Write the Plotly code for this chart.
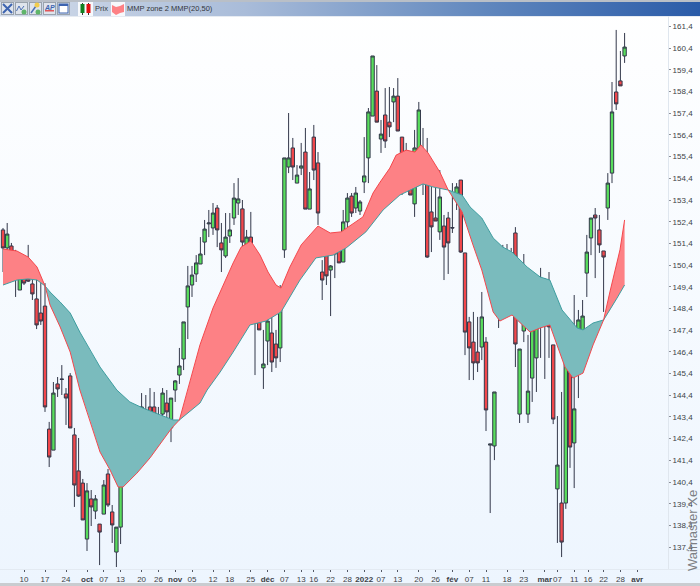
import urllib.parse
import plotly.graph_objects as go

opens = [152.02,151.19,151.28,150.17,149.25,150.31,149.80,149.53,148.84,148.19,148.51,142.84,141.87,144.92,145.15,144.46,145.29,142.57,140.91,140.35,
137.77,139.62,139.06,138.46,138.92,140.77,139.02,137.17,138.32,142.24,143.17,143.40,143.30,143.21,143.44,143.86,143.86,143.12,143.53,144.04,
142.89,144.64,145.33,146.07,148.47,149.48,149.99,150.45,151.46,152.30,152.11,153.03,151.42,150.82,151.74,152.57,153.26,152.99,151.10,151.69,
147.73,149.39,145.66,146.90,147.27,146.76,146.58,151.10,154.92,155.80,154.18,154.87,155.61,152.98,156.30,155.11,150.08,151.74,150.17,150.91,
151.56,150.54,152.39,153.58,153.03,152.89,154.23,155.34,157.27,158.42,156.21,157.32,156.99,157.92,158.19,156.30,155.11,155.20,153.22,155.43,
155.38,154.69,152.85,152.57,151.93,152.20,152.57,152.13,153.54,154.32,150.96,147.78,146.85,146.39,146.62,146.85,142.10,142.06,148.88,149.39,
150.22,150.22,151.88,143.53,147.36,143.53,145.19,146.12,147.89,147.59,148.24,146.72,140.08,139.43,139.43,146.76,142.20,145.52,147.08,150.03,
151.65,152.71,152.02,151.05,153.03,154.64,158.38,158.89,160.04]
highs = [152.11,152.34,151.42,151.10,150.96,150.50,151.33,149.85,149.85,149.57,149.57,143.17,145.01,145.24,145.79,144.73,145.42,142.89,142.43,140.54,
140.35,140.03,139.80,138.46,140.49,141.00,139.34,138.32,140.45,142.98,143.72,143.58,143.58,144.50,144.41,144.73,144.55,143.86,144.73,144.64,
144.27,145.10,146.58,147.78,150.36,150.36,150.86,151.69,152.48,152.94,153.26,153.17,152.34,152.80,152.80,154.18,154.41,153.40,152.02,152.85,
150.17,149.57,147.41,148.19,148.01,147.41,149.48,155.34,157.41,156.26,155.01,156.03,156.72,154.69,156.86,155.61,150.63,151.74,150.40,151.65,
151.56,152.94,153.72,153.72,154.00,153.40,156.30,157.64,160.04,159.62,157.09,158.56,158.61,158.56,159.02,156.30,156.03,155.61,156.63,157.92,
156.72,156.26,154.78,154.41,154.78,152.71,152.85,154.18,154.18,154.32,150.96,148.01,148.24,148.01,149.16,147.08,142.15,144.55,149.80,151.33,
151.37,151.19,152.15,146.53,150.91,147.18,148.65,148.93,150.27,149.80,150.08,146.72,143.44,144.55,145.98,146.76,149.02,148.33,148.79,151.79,
152.57,153.03,152.71,151.05,154.64,158.84,161.24,160.27,161.10]
lows = [150.08,150.96,150.27,148.93,149.25,149.48,149.62,148.79,147.45,147.64,143.63,141.09,141.87,144.32,144.41,143.03,142.89,139.25,139.71,138.65,
137.22,138.37,138.69,136.57,138.92,139.25,137.59,136.48,137.54,140.72,142.43,142.43,142.20,142.29,143.03,142.52,142.84,143.12,143.35,142.80,
142.24,144.09,144.92,145.56,146.99,148.93,149.62,150.45,150.86,151.69,151.79,151.23,150.08,150.73,151.42,152.25,152.71,150.82,150.31,150.54,
145.33,147.41,144.69,145.79,145.47,145.66,145.93,150.73,154.64,154.32,154.18,154.55,152.98,152.98,154.32,152.25,148.79,149.48,148.05,149.80,
150.50,150.54,151.93,152.62,152.80,152.71,153.72,154.18,157.27,156.99,155.57,155.80,156.30,156.99,156.58,153.63,154.32,153.63,152.62,154.55,
153.63,150.73,151.00,152.43,151.56,149.71,149.99,151.88,152.94,150.96,146.25,145.10,145.10,145.47,146.02,142.75,138.97,141.41,147.50,148.70,
148.70,148.70,145.70,143.12,146.85,143.12,144.09,144.55,146.12,145.15,146.12,143.07,137.59,136.94,139.16,141.05,140.12,144.27,145.56,148.93,
150.86,149.80,150.96,148.24,152.48,154.18,157.55,158.66,159.72]
closes = [151.19,151.83,150.50,150.13,150.22,149.57,149.66,149.07,147.64,147.82,143.86,141.55,144.50,144.69,145.13,144.27,142.89,140.26,139.75,138.65,
139.99,139.25,139.62,138.09,140.26,139.34,138.42,138.32,140.45,142.47,143.30,143.03,143.12,143.86,143.58,143.12,142.98,143.40,144.50,143.63,
144.27,145.06,145.75,147.78,149.44,149.94,150.50,150.91,152.06,152.34,152.80,152.02,151.10,151.69,152.02,153.49,153.45,151.46,151.69,151.42,
148.51,147.41,145.84,147.82,145.93,146.12,148.74,155.34,155.34,154.92,154.55,154.97,152.98,153.91,154.78,152.80,149.71,149.90,150.36,151.51,
150.50,152.39,153.49,152.80,153.72,153.31,154.51,157.46,160.04,156.99,156.44,156.12,156.77,158.19,156.58,154.78,155.34,153.63,155.80,157.55,
155.24,150.77,152.16,152.43,153.54,151.23,151.42,152.11,154.00,151.00,147.31,146.58,145.89,145.89,148.01,143.72,142.15,144.55,148.42,150.31,
150.31,150.77,146.76,146.53,148.28,144.59,148.01,148.70,147.91,148.84,147.55,143.30,141.18,137.63,145.98,142.01,143.77,147.87,148.05,151.00,
152.57,152.57,151.33,150.77,154.18,157.46,157.83,158.66,160.45]

ma20_idx = [0,3.3,6,8.1,10,11.2,13.6,16,18.3,20.7,23.1,25.5,27.4,28.6,31.9,35,38.1,40.2,42,44,46.9,50,54.8,56.7,59,61.2,63.1,65,66.2,68.3,71,73.1,75,77.9,80.5,85.7,88.1,89.8,92.1,93.6,96,98.1,99.5,101.2,104,106,109.3,111.9,114,116.7,118.3,121.2,123.1,125.5,127.9,130.2,131.9,133.8,135.7,138.1,140.5,143,144.5,146.9,148]
ma20 = [151.14,151.05,150.77,150.31,149.44,148.56,147.55,146.39,144.64,143.26,141.78,140.95,140.17,140.17,140.81,141.51,142.34,142.89,143.26,144.64,146.72,148.42,150.50,151.23,151.51,150.86,150.08,149.48,149.34,150.31,151.33,151.79,152.20,151.88,151.93,152.62,153.72,154.23,154.87,155.47,155.70,155.61,155.94,155.57,154.69,153.86,152.85,151.33,150.17,148.24,147.82,148.10,147.73,147.31,147.50,147.64,146.72,145.70,145.19,145.42,146.72,147.87,149.16,151.10,152.48]
ma50_idx = [0,3.3,6,8.1,10,11.2,13.6,16,18.3,20.7,23.1,27.1,30.2,33.3,37.4,40.5,42,46.9,48.6,51.7,54.8,58.8,62.6,66.2,70.7,74.5,78.6,81.7,86.4,90.5,94.5,96.9,100,102.4,106,109.3,111.2,114,116.7,119,121.2,124.8,127.9,130.2,133.1,134.5,136.7,138.1,140.5,143,144.5,146.2,148]
ma50 = [149.48,149.71,149.76,149.71,149.44,149.16,148.70,148.19,147.31,146.49,145.70,144.64,144.09,143.81,143.49,143.26,143.26,144.04,144.64,145.47,146.39,147.64,147.82,148.24,149.71,150.73,150.86,151.19,151.93,152.94,153.63,153.86,154.14,154.00,153.86,153.63,153.08,152.57,151.65,151.23,151.00,150.31,149.85,149.71,148.33,148.01,147.50,147.41,147.73,147.87,148.33,148.88,149.48]
zone_breaks = [0,10,42,106,143,148]
zone_colors = ["#fd8185","#7abbbd","#fd8185","#7abbbd","#fd8185"]

x_tick_idx = [5,10,15,20,24,28,33,37,41,45,50,54,59,63,67,71,74,78,82,86,90,94,99,103,107,111,115,120,124,129,132,136,139.3,143,147,151]
x_tick_txt = ["10","17","24","<b>oct</b>","07","13","20","26","<b>nov</b>","05","12","18","25","<b>déc</b>","07","13","16","22","28","<b>2022</b>","07","13","20","26","<b>fév</b>","07","11","18","23","<b>mar</b>","07","11","16","22","28","<b>avr</b>"]
y_ticks = [137.4 + k for k in range(25)]
y_tick_txt = [f"{v:.1f}".replace(".", ",") for v in y_ticks]

W, H = 700, 586
ML, MR, MT, MB = 0, 32, 16, 17
PW, PH = W - ML - MR, H - MT - MB

svg = f'''<svg xmlns="http://www.w3.org/2000/svg" width="{W}" height="{H}" viewBox="0 0 {W} {H}">
<defs>
<linearGradient id="b" x1="0" y1="0" x2="0" y2="1"><stop offset="0" stop-color="#ffffff"/><stop offset="1" stop-color="#edf5fe"/></linearGradient>
<linearGradient id="h" x1="0" y1="0" x2="1" y2="0"><stop offset="0" stop-color="#d3dcea"/><stop offset="0.35" stop-color="#a9bcd9"/><stop offset="0.7" stop-color="#5f86bd"/><stop offset="1" stop-color="#2a5ba8"/></linearGradient>
</defs>
<rect width="{W}" height="{H}" fill="url(#b)"/>
<rect width="{W}" height="2" fill="#b9bfc7"/>
<rect y="2" width="{W}" height="14" fill="url(#h)"/>
<rect y="16" width="{W}" height="1" fill="#e6ebf2"/>
<rect x="668" y="16" width="1" height="553" fill="#dfe6ee"/>
<rect y="569" width="{W}" height="1" fill="#e3eaf2"/>
<rect y="583" width="{W}" height="3" fill="#c9ccd0"/>
<g fill="#dfe4ec" stroke="#9aa3ad" stroke-width="1">
<rect x="1.5" y="2.5" width="12" height="12"/><rect x="15.5" y="2.5" width="12" height="12"/><rect x="29.5" y="2.5" width="12" height="12"/><rect x="43.5" y="2.5" width="12" height="12"/><rect x="57.5" y="2.5" width="12" height="12"/>
</g>
<path d="M3 13 L12 4 M3 4 L12 13" stroke="#3d64b0" stroke-width="2"/>
<path d="M16.5 11 L19 6 L21 10 L24 6" fill="none" stroke="#4a6fb5" stroke-width="1"/><circle cx="24" cy="12" r="2.5" fill="#5fb56a"/>
<path d="M31 13 L36 6" stroke="#4a6fb5" stroke-width="1.5"/><circle cx="37" cy="5" r="2.5" fill="#f1cc4c"/><circle cx="38" cy="12" r="2.5" fill="#5fb56a"/>
<rect x="45" y="10" width="9" height="1.5" fill="#e0565a"/>
<rect x="59" y="4" width="9" height="9" fill="#fff" stroke="#3d64b0"/><rect x="59" y="4" width="9" height="2" fill="#3d64b0"/>
<rect x="78" y="2" width="15" height="14" fill="#f7f9fc"/>
<path d="M82.5 3 V15 M88.5 3 V15" stroke="#333"/>
<rect x="80.5" y="4" width="4" height="9" fill="#0f7f1f"/><rect x="86.5" y="4" width="4" height="9" fill="#e20f10"/>
<rect x="111" y="2" width="14" height="14" fill="#f7f9fc"/>
<path d="M112 5 L116 7 L120 6 L124 4 L124 12 L120 13 L116 15 L112 12 Z" fill="#fd8185"/>
</svg>'''
bg = "data:image/svg+xml," + urllib.parse.quote(svg)

fig = go.Figure()
for a, b, col in zip(zone_breaks[:-1], zone_breaks[1:], zone_colors):
    up = [(i, v) for i, v in zip(ma20_idx, ma20) if a <= i <= b]
    lo = [(i, v) for i, v in zip(ma50_idx, ma50) if a <= i <= b][::-1]
    pts = up + lo
    fig.add_trace(go.Scatter(x=[p[0] for p in pts], y=[p[1] for p in pts], mode="none", fill="toself",
                             fillcolor=col, hoverinfo="skip", showlegend=False))
fig.add_trace(go.Scatter(x=ma50_idx, y=ma50, mode="lines", line=dict(color="#3f9ea0", width=1), hoverinfo="skip", showlegend=False))
fig.add_trace(go.Scatter(x=ma20_idx, y=ma20, mode="lines", line=dict(color="#f4474c", width=1), hoverinfo="skip", showlegend=False))
fig.add_trace(go.Candlestick(x=list(range(len(opens))), open=opens, high=highs, low=lows, close=closes,
    increasing=dict(line=dict(color="#33384a", width=1), fillcolor="#58dd5c"),
    decreasing=dict(line=dict(color="#33384a", width=1), fillcolor="#f2474b"),
    whiskerwidth=0, showlegend=False))

x_range = [(ML - 3) / 4.2, (ML + PW - 3) / 4.2]
y_range = [162.62 - 0.0461 * (MT + PH), 162.62 - 0.0461 * MT]
tick_font = dict(family="Liberation Sans, Arial, sans-serif", size=8, color="#3c3f46")

annots = [
    dict(text="Prix", x=93, y=9),
    dict(text="MMP zone 2 MMP(20,50)", x=125, y=9),
]
ann = []
for a in annots:
    ann.append(dict(text=a["text"], xref="paper", yref="paper", x=(a["x"] - ML) / PW, y=(H - MB - a["y"]) / PH,
                    xanchor="left", yanchor="middle", showarrow=False,
                    font=dict(family="Liberation Sans, Arial, sans-serif", size=7.5, color="#33363c")))
ann.append(dict(text="<i><b>AP</b></i>", xref="paper", yref="paper", x=49.5 / PW, y=(H - MB - 7) / PH, xanchor="center", yanchor="middle",
                showarrow=False, font=dict(family="Liberation Sans, Arial, sans-serif", size=7, color="#3d64b0")))
ann.append(dict(text="Waimaster Xe", xref="paper", yref="paper", x=(692 - ML) / PW, y=(H - MB - 531) / PH, xanchor="center", yanchor="middle",
                textangle=-90, showarrow=False, font=dict(family="Liberation Sans, Arial, sans-serif", size=13, color="#7d7f84")))

fig.update_layout(
    width=W, height=H, autosize=False,
    margin=dict(l=ML, r=MR, t=MT, b=MB, pad=0),
    paper_bgcolor="#ffffff", plot_bgcolor="rgba(0,0,0,0)",
    showlegend=False, hovermode=False,
    boxgap=0.2, boxgroupgap=0.0,
    annotations=ann,
    images=[dict(source=bg, xref="paper", yref="paper", x=-ML / PW, y=(H - MB) / PH, sizex=W / PW, sizey=H / PH,
                 sizing="stretch", xanchor="left", yanchor="top", layer="below")],
    xaxis=dict(range=x_range, rangeslider=dict(visible=False), showgrid=False, zeroline=False, showline=False,
               tickmode="array", tickvals=x_tick_idx, ticktext=x_tick_txt, ticks="outside", ticklen=2, tickwidth=1,
               tickcolor="#555a66", tickfont=tick_font, tickangle=0),
    yaxis=dict(range=y_range, side="right", showgrid=False, zeroline=False, showline=False,
               tickmode="array", tickvals=y_ticks, ticktext=y_tick_txt, ticks="outside", ticklen=2, tickwidth=1,
               tickcolor="#8a8f99", tickfont=tick_font),
)
fig.write_html("out.html", config={"displayModeBar": False},
               post_script="document.body.style.margin='0';document.body.style.overflow='hidden';")
